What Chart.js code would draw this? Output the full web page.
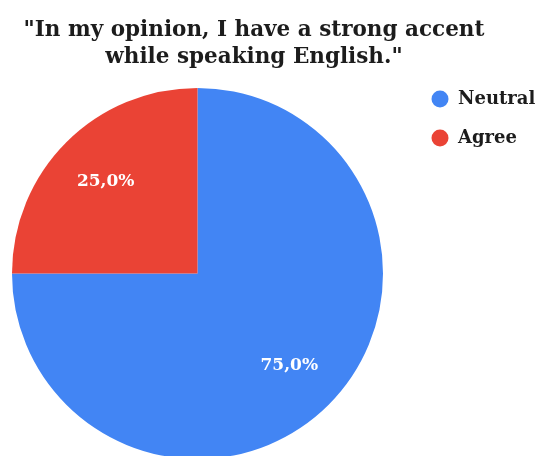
<!DOCTYPE html>
<html lang="en">
<head>
    <meta charset="UTF-8">
    <title>Accent</title>
    <script src="https://cdn.jsdelivr.net/npm/chart.js@4.4.1/dist/chart.umd.min.js"></script>
    <style>
        html, body { margin: 0; padding: 0; overflow: hidden; background: #fff; }
        #page { position: relative; width: 540px; height: 456px; overflow: hidden; }
        #chartTitle {
            position: absolute; left: -16px; top: 16px; width: 540px; margin: 0;
            text-align: center; color: #1c1c1c;
            font: bold 21.5px/26.8px "DejaVu Serif", serif;
        }
        #wrap { position: absolute; left: -15px; top: 0; width: 555px; height: 478px; }
    </style>
</head>
<body>
    <div id="page">
        <div id="wrap">
            <canvas id="accentPie" width="555" height="478"></canvas>
        </div>
        <h1 id="chartTitle"></h1>
    </div>
    <script>
        var titleLines = ['"In my opinion, I have a strong accent', 'while speaking English."'];
        var answers = ['Neutral', 'Agree'];
        var counts = [75, 25];
        var sliceColors = ['#4285F4', '#EA4335'];

        var titleEl = document.getElementById('chartTitle');
        titleLines.forEach(function (line, i) {
            if (i > 0) titleEl.appendChild(document.createElement('br'));
            titleEl.appendChild(document.createTextNode(line));
        });

        // white percentage text inside each slice, 70% of the way out
        var sliceLabels = {
            id: 'sliceLabels',
            afterDatasetsDraw: function (chart) {
                var ctx = chart.ctx;
                var meta = chart.getDatasetMeta(0);
                var values = chart.data.datasets[0].data;
                var total = values.reduce(function (a, b) { return a + b; }, 0);
                ctx.save();
                ctx.font = 'bold 17px "DejaVu Serif"';
                ctx.fillStyle = '#ffffff';
                ctx.textAlign = 'center';
                ctx.textBaseline = 'middle';
                meta.data.forEach(function (arc, i) {
                    var p = arc.getProps(['x', 'y', 'startAngle', 'endAngle', 'outerRadius'], true);
                    var mid = (p.startAngle + p.endAngle) / 2;
                    var r = p.outerRadius * 0.7;
                    var text = (values[i] / total * 100).toFixed(1).replace('.', ',') + '%';
                    ctx.fillText(text, p.x + Math.cos(mid) * r, p.y + Math.sin(mid) * r);
                });
                ctx.restore();
            }
        };

        var ctx = document.getElementById('accentPie');
        new Chart(ctx, {
            type: 'pie',
            data: {
                labels: answers,
                datasets: [{
                    data: counts,
                    backgroundColor: sliceColors,
                    borderWidth: 0
                }]
            },
            options: {
                responsive: false,
                animation: false,
                radius: 185.5,
                layout: {
                    padding: { left: 0, right: 0, top: 69, bottom: 0 }
                },
                plugins: {
                    legend: {
                        position: 'right',
                        align: 'start',
                        maxWidth: 130,
                        labels: {
                            usePointStyle: true,
                            pointStyle: 'circle',
                            boxHeight: 12,
                            padding: 21,
                            color: '#1c1c1c',
                            font: { family: '"DejaVu Serif"', size: 18, weight: 'bold' }
                        }
                    },
                    tooltip: { enabled: false }
                }
            },
            plugins: [sliceLabels]
        });
    </script>
</body>
</html>
